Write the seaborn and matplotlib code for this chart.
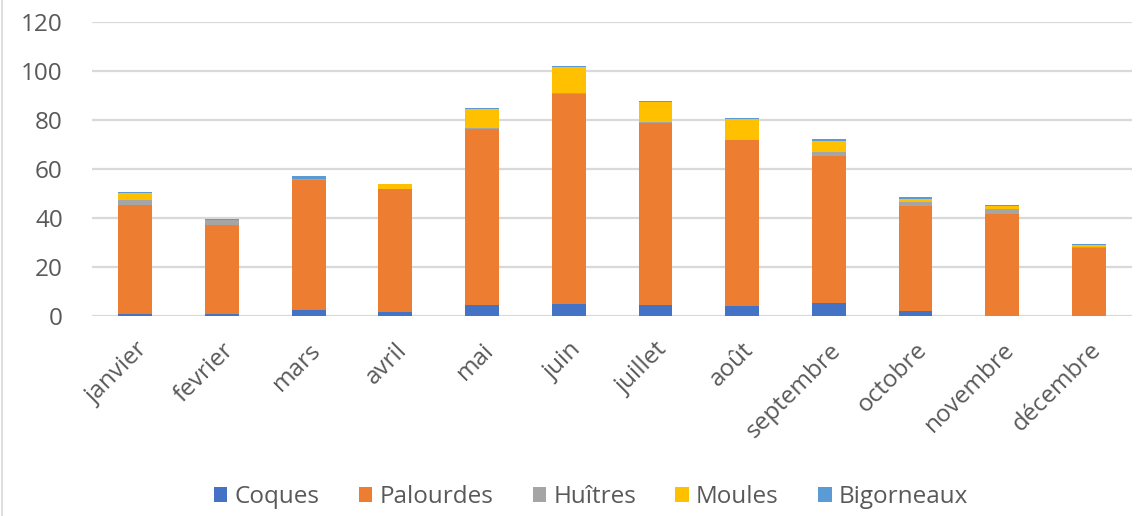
import numpy as np
import pandas as pd
import seaborn as sns
import matplotlib.pyplot as plt
from matplotlib.patches import Patch

# Monthly catches per shellfish type
mois = ['janvier', 'fevrier', 'mars', 'avril', 'mai', 'juin', 'juillet',
        'août', 'septembre', 'octobre', 'novembre', 'décembre']
coques = [1.0, 1.0, 2.5, 1.5, 4.3, 5.0, 4.5, 4.2, 5.5, 2.2, 0.0, 0.0]
palourdes = [44.5, 36.0, 53.0, 50.3, 72.0, 85.5, 74.2, 67.5, 59.8, 42.7, 41.6, 27.6]
huitres = [2.0, 2.0, 0.5, 0.0, 0.5, 0.6, 0.5, 0.0, 1.8, 1.8, 1.9, 0.7]
moules = [2.5, 0.0, 0.0, 2.0, 7.5, 10.5, 8.2, 8.8, 4.5, 1.2, 1.4, 0.6]
bigorneaux = [0.5, 0.7, 1.0, 0.0, 0.5, 0.6, 0.5, 0.5, 0.5, 0.8, 0.5, 0.5]

series = ['Coques', 'Palourdes', 'Huîtres', 'Moules', 'Bigorneaux']
couleurs = ['#4472C4', '#ED7D31', '#A5A5A5', '#FFC000', '#5B9BD5']

df = pd.DataFrame({'mois': mois, 'Coques': coques, 'Palourdes': palourdes,
                   'Huîtres': huitres, 'Moules': moules, 'Bigorneaux': bigorneaux})

sns.set_style('white')
plt.rcParams['font.family'] = ['Open Sans', 'DejaVu Sans']

fig = plt.figure(figsize=(11.43, 5.16), dpi=100)
ax = fig.add_axes([0.0805, 0.3876, 0.910, 0.5698])

bas = np.zeros(len(mois))
for nom, coul in zip(series, couleurs):
    sns.barplot(data=df, x='mois', y=nom, color=coul, bottom=bas, width=0.39,
                linewidth=0, saturation=1, ax=ax)
    bas = bas + df[nom].values

ax.set_ylim(0, 120)
ax.set_xlim(-0.5, len(mois) - 0.5)
ax.set_yticks(range(0, 121, 20))
ax.yaxis.grid(True, color='#D9D9D9', linewidth=1.6)
ax.set_axisbelow(True)
for s in ax.spines.values():
    s.set_visible(False)
ax.set_xlabel('')
ax.set_ylabel('')
ax.tick_params(axis='y', labelsize=17.5, colors='#595959', length=0, pad=21)
ax.tick_params(axis='x', labelsize=17.5, colors='#595959', length=0, pad=16)
plt.setp(ax.get_xticklabels(), rotation=45, ha='right', rotation_mode='anchor')

handles = [Patch(facecolor=c, edgecolor='none') for c in couleurs]
leg = fig.legend(handles, series, loc='center', bbox_to_anchor=(0.517, 0.037),
                 ncol=5, frameon=False, fontsize=17.5, handlelength=0.55,
                 handleheight=0.55, handletextpad=0.3, columnspacing=1.62)
for t in leg.get_texts():
    t.set_color('#595959')

# light chart-area border on the left edge
fig.add_artist(plt.Line2D([0.002, 0.002], [0, 1], color='#D9D9D9', linewidth=1.2))

fig.savefig('out.png', dpi=100)
